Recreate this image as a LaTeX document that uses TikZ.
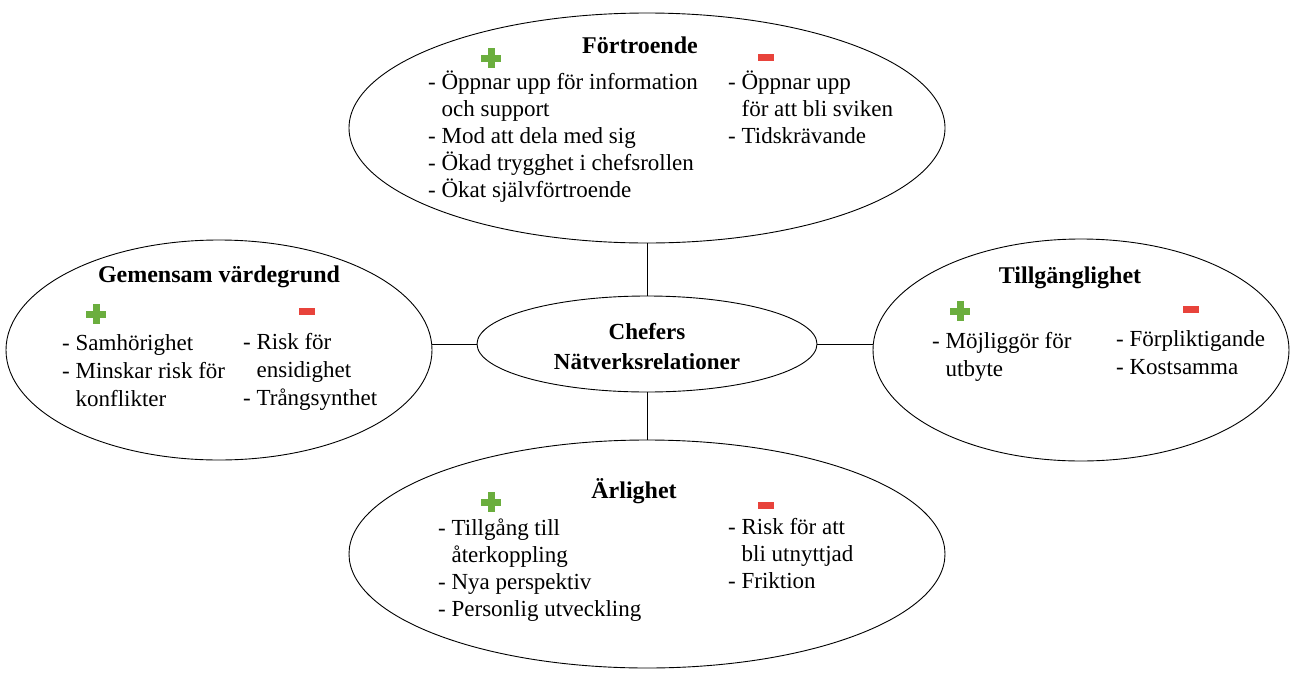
\documentclass[tikz,border=0pt]{standalone}
\usepackage{fontspec}
\setmainfont{Liberation Serif}
\usetikzlibrary{shapes.geometric}
\definecolor{plusgreen}{HTML}{6BAE3E}
\definecolor{minusred}{HTML}{E8433B}
\newcommand{\ind}{\phantom{- }}
\newcommand{\lines}[1]{\begin{tabular}[t]{@{}l@{}}#1\end{tabular}}
\newcommand{\clines}[1]{\begin{tabular}[t]{@{}c@{}}#1\end{tabular}}
\tikzset{
  bubble/.style={draw=black, line width=0.9pt, ellipse, inner sep=0pt, fill=white},
  link/.style={draw=black, line width=0.9pt},
  col/.style={anchor=base west, inner sep=0pt, font=\fontsize{23}{27}\selectfont},
  ttl/.style={anchor=base, inner sep=0pt, font=\fontsize{24}{29}\selectfont\bfseries},
  minusmark/.style={fill=minusred, draw=none, minimum width=16pt, minimum height=7pt, inner sep=0pt}
}
\newcommand{\plusat}[2]{%
  \fill[plusgreen] ({#1-3.5},{#2-10}) rectangle ({#1+3.5},{#2+10});
  \fill[plusgreen] ({#1-10},{#2-3.5}) rectangle ({#1+10},{#2+3.5});}
\begin{document}
\begin{tikzpicture}[x=1pt,y=-1pt]
\useasboundingbox (0,0) rectangle (1294,678);
% bubbles
\node[bubble, minimum width=596pt, minimum height=230pt] (top) at (647,128) {};
\node[bubble, minimum width=340pt, minimum height=96pt] (mid) at (647,344) {};
\node[bubble, minimum width=426pt, minimum height=220pt] (lft) at (219,350) {};
\node[bubble, minimum width=416pt, minimum height=222pt] (rgt) at (1081,350) {};
\node[bubble, minimum width=596pt, minimum height=228pt] (bot) at (647,554) {};
% connectors
\draw[link] (top.south) -- (mid.north);
\draw[link] (mid.south) -- (bot.north);
\draw[link] (mid.west) -- (mid.west -| lft.east);
\draw[link] (mid.east) -- (mid.east -| rgt.west);
% center
\node[ttl, font=\fontsize{23}{30}\selectfont\bfseries] (midt) at (647,339) {\clines{Chefers\\Nätverksrelationer}};
% top
\node[ttl] (topt) at (640,53) {Förtroende};
\plusat{491}{58}
\node[minusmark] (topm) at (766,57) {};
\node[col] (topa) at (428,89) {\lines{- Öppnar upp för information\\\ind och support\\- Mod att dela med sig\\- Ökad trygghet i chefsrollen\\- Ökat självförtroende}};
\node[col] (topb) at (728,89) {\lines{- Öppnar upp\\\ind för att bli sviken\\- Tidskrävande}};
% left
\node[ttl] (lftt) at (219,282) {Gemensam värdegrund};
\plusat{96}{314}
\node[minusmark] (lftm) at (307,311) {};
\node[col, font=\fontsize{23}{28}\selectfont] (lfta) at (62,350) {\lines{- Samhörighet\\- Minskar risk för\\\ind konflikter}};
\node[col, font=\fontsize{23}{28}\selectfont] (lftb) at (243,349) {\lines{- Risk för\\\ind ensidighet\\- Trångsynthet}};
% right
\node[ttl] (rgtt) at (1070,283) {Tillgänglighet};
\plusat{960}{311}
\node[minusmark] (rgtm) at (1191,309) {};
\node[col, font=\fontsize{23}{28}\selectfont] (rgta) at (932,348) {\lines{- Möjliggör för\\\ind utbyte}};
\node[col, font=\fontsize{23}{28}\selectfont] (rgtb) at (1116,346) {\lines{- Förpliktigande\\- Kostsamma}};
% bottom
\node[ttl] (bott) at (634,498) {Ärlighet};
\plusat{491}{502}
\node[minusmark] (botm) at (766,505) {};
\node[col, font=\fontsize{23}{27.3}\selectfont] (bota) at (438,535) {\lines{- Tillgång till\\\ind återkoppling\\- Nya perspektiv\\- Personlig utveckling}};
\node[col, font=\fontsize{23}{27.3}\selectfont] (botb) at (728,534) {\lines{- Risk för att\\\ind bli utnyttjad\\- Friktion}};
\end{tikzpicture}
\end{document}
